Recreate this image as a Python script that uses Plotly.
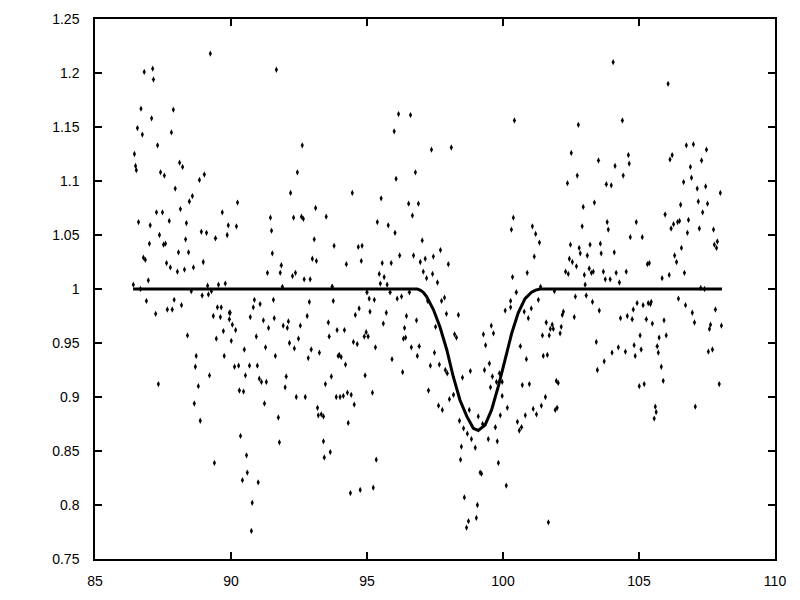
import plotly.graph_objects as go

# observed points (time, relative flux)
obs_x = [
 89.24, 86.81, 87.12, 87.15, 86.69, 87.88, 87.08, 86.56, 86.74, 87.81, 87.30, 86.45, 86.49, 86.52, 87.41, 87.55,
 88.11, 88.22, 87.95, 88.84, 89.02, 88.58, 88.47, 88.14, 87.26, 87.48, 89.68, 86.60, 87.03, 87.73, 88.36, 89.90,
 88.91, 89.10, 87.37, 88.33, 89.43, 89.86, 87.00, 87.52, 87.59, 88.07, 88.44, 86.78, 86.85, 87.63, 87.77, 88.03,
 88.29, 88.62, 88.98, 86.96, 86.41, 89.54, 89.79, 89.14, 86.67, 88.54, 88.94, 89.17, 89.28, 86.89, 87.91, 87.66,
 87.84, 88.18, 87.23, 89.50, 89.64, 89.35, 89.61, 89.94, 89.94, 89.72, 88.40, 89.46, 88.72, 89.75, 88.69, 89.21,
 87.33, 88.80, 88.65, 88.87, 89.39,
 91.67, 92.62, 92.44, 92.19, 90.24, 91.45, 92.30, 92.59, 92.66, 93.11, 93.50, 90.20, 91.49, 93.06, 91.52, 92.99,
 93.14, 91.85, 91.34, 91.81, 92.26, 92.37, 92.69, 92.91, 91.89, 93.72, 90.86, 91.56, 90.82, 91.07, 92.88, 89.97,
 90.05, 90.17, 90.71, 91.19, 91.59, 91.92, 92.07, 92.11, 92.55, 92.80, 93.58, 91.38, 90.01, 90.93, 93.61, 92.15,
 92.33, 92.48, 90.49, 91.27, 92.95, 93.25, 91.63, 92.84, 90.13, 90.28, 90.68, 90.97, 90.53, 92.03, 93.69, 91.04,
 91.12, 91.30, 91.99, 93.47, 90.31, 90.46, 92.40, 92.73, 91.23, 93.18, 93.21, 93.32, 93.40, 91.74, 90.35, 93.40,
 91.78, 93.65, 90.57, 93.43, 90.60, 90.42, 91.00, 90.78, 90.75,
 96.16, 96.60, 96.00, 97.37, 96.78, 96.07, 94.46, 95.52, 96.53, 96.89, 96.67, 95.38, 95.78, 96.03, 97.03, 93.79,
 94.68, 94.82, 94.24, 94.79, 95.56, 95.89, 96.20, 96.71, 96.96, 97.14, 97.44, 97.07, 97.41, 95.45, 95.63, 97.19,
 95.49, 95.74, 93.72, 95.85, 96.56, 93.76, 95.00, 95.08, 95.27, 96.11, 96.27, 97.23, 94.71, 95.11, 95.71, 94.57,
 96.45, 96.82, 95.60, 97.52, 93.90, 94.17, 96.38, 94.97, 94.90, 95.04, 96.34, 96.42, 94.50, 94.64, 95.31, 96.63,
 96.92, 93.94, 93.98, 94.05, 96.85, 97.48, 95.92, 94.21, 97.33, 96.31, 94.93, 95.20, 97.26, 93.87, 94.01, 94.13,
 94.28, 94.42, 94.53, 94.31, 95.34, 94.39, 94.75, 95.23,
 100.42, 98.10, 100.38, 100.31, 101.08, 101.20, 101.34, 97.70, 101.15, 97.99, 100.89, 100.35, 97.59, 97.85, 97.74, 100.49,
 101.30, 100.28, 100.28, 100.08, 100.78, 101.04, 97.92, 98.36, 100.93, 99.57, 98.22, 98.29, 99.28, 99.65, 99.36, 100.64,
 97.66, 100.86, 99.50, 97.88, 97.95, 99.32, 98.80, 99.87, 98.51, 99.61, 99.76, 99.97, 99.54, 100.71, 100.97, 99.97,
 98.18, 98.03, 97.63, 97.77, 98.76, 100.16, 101.11, 101.23, 99.90, 100.82, 99.09, 98.40, 99.25, 100.53, 98.55, 99.72,
 100.68, 100.60, 98.69, 99.46, 98.84, 99.79, 98.98, 98.47, 98.44, 99.83, 99.16, 99.21, 100.12, 98.58, 99.06, 99.02,
 98.73, 98.66,
 104.05, 104.39, 102.77, 102.51, 104.61, 104.64, 103.51, 104.12, 104.42, 102.73, 102.37, 103.80, 103.98, 103.36, 102.95, 102.91,
 103.83, 103.87, 104.90, 104.68, 105.12, 102.48, 102.80, 103.20, 103.58, 102.84, 103.10, 103.61, 104.09, 102.44, 102.55, 102.70,
 103.17, 103.25, 103.32, 102.30, 102.40, 102.99, 103.69, 104.16, 104.53, 103.76, 103.94, 104.28, 101.38, 103.02, 101.89, 102.66,
 103.06, 103.29, 103.54, 104.93, 104.79, 104.32, 104.57, 104.75, 102.22, 102.18, 102.62, 101.59, 101.81, 102.14, 101.74, 101.85,
 101.45, 101.70, 102.10, 105.04, 103.43, 104.24, 104.01, 104.50, 104.82, 105.08, 104.86, 101.48, 101.63, 103.72, 103.47, 101.96,
 102.03, 105.01, 101.56, 101.41, 101.92, 101.99, 101.67,
 106.07, 106.74, 107.00, 107.48, 106.22, 106.14, 107.30, 106.89, 106.93, 106.64, 107.14, 107.45, 107.99, 107.18, 107.52, 106.53,
 107.34, 105.96, 106.82, 106.27, 106.42, 106.49, 106.18, 107.22, 107.74, 106.78, 107.88, 107.77, 107.85, 106.56, 106.31, 106.38,
 105.31, 105.38, 106.67, 106.11, 105.85, 107.27, 107.41, 106.45, 106.71, 105.15, 105.34, 105.42, 105.45, 107.81, 106.96, 105.27,
 105.92, 105.49, 107.04, 107.63, 108.03, 107.59, 106.00, 105.74, 105.67, 105.71, 107.55, 107.70, 105.82, 105.89, 105.19, 107.95,
 105.60, 105.63, 105.56, 107.07,
]
obs_y = [
 1.218, 1.201, 1.204, 1.194, 1.167, 1.166, 1.158, 1.149, 1.143, 1.145, 1.133, 1.125, 1.114, 1.110, 1.108, 1.105,
 1.117, 1.113, 1.093, 1.101, 1.106, 1.086, 1.081, 1.074, 1.071, 1.071, 1.071, 1.062, 1.059, 1.063, 1.061, 1.059,
 1.053, 1.052, 1.050, 1.046, 1.047, 1.050, 1.042, 1.041, 1.042, 1.034, 1.034, 1.029, 1.027, 1.024, 1.020, 1.016,
 1.018, 1.020, 1.025, 1.008, 1.004, 1.004, 1.005, 1.003, 1.000, 0.998, 0.994, 0.995, 0.998, 0.989, 0.990, 0.981,
 0.981, 0.985, 0.977, 0.983, 0.983, 0.975, 0.974, 0.978, 0.972, 0.961, 0.957, 0.954, 0.938, 0.938, 0.928, 0.920,
 0.912, 0.910, 0.894, 0.878, 0.839,
 1.203, 1.133, 1.108, 1.089, 1.080, 1.066, 1.066, 1.067, 1.065, 1.075, 1.067, 1.058, 1.054, 1.046, 1.033, 1.028,
 1.026, 1.022, 1.015, 1.015, 1.012, 1.015, 1.009, 1.009, 1.002, 1.002, 0.990, 0.990, 0.983, 0.986, 0.988, 0.978,
 0.967, 0.962, 0.974, 0.971, 0.973, 0.966, 0.964, 0.970, 0.966, 0.975, 0.969, 0.964, 0.952, 0.956, 0.956, 0.950,
 0.945, 0.954, 0.944, 0.946, 0.944, 0.941, 0.938, 0.936, 0.928, 0.929, 0.929, 0.929, 0.920, 0.919, 0.919, 0.917,
 0.914, 0.914, 0.909, 0.912, 0.906, 0.905, 0.900, 0.900, 0.894, 0.890, 0.883, 0.884, 0.882, 0.881, 0.864, 0.859,
 0.858, 0.849, 0.846, 0.844, 0.830, 0.823, 0.821, 0.802, 0.776,
 1.162, 1.161, 1.146, 1.129, 1.108, 1.102, 1.089, 1.084, 1.079, 1.079, 1.068, 1.062, 1.059, 1.052, 1.045, 1.040,
 1.039, 1.040, 1.023, 1.026, 1.024, 1.024, 1.031, 1.031, 1.025, 1.028, 1.030, 1.016, 1.014, 1.014, 1.011, 1.010,
 1.005, 1.004, 1.002, 0.997, 0.997, 0.989, 0.997, 0.991, 0.990, 0.991, 0.993, 0.989, 0.982, 0.979, 0.978, 0.976,
 0.975, 0.971, 0.968, 0.965, 0.962, 0.962, 0.964, 0.960, 0.956, 0.956, 0.954, 0.955, 0.951, 0.949, 0.946, 0.946,
 0.947, 0.938, 0.939, 0.937, 0.938, 0.941, 0.935, 0.930, 0.929, 0.923, 0.920, 0.904, 0.906, 0.900, 0.900, 0.901,
 0.904, 0.902, 0.893, 0.876, 0.842, 0.811, 0.814, 0.816,
 1.156, 1.131, 1.066, 1.055, 1.058, 1.051, 1.043, 1.036, 1.030, 1.023, 1.015, 1.011, 1.006, 0.992, 0.989, 0.997,
 0.990, 0.989, 0.983, 0.980, 0.979, 0.982, 0.977, 0.976, 0.973, 0.966, 0.958, 0.955, 0.958, 0.959, 0.948, 0.947,
 0.930, 0.935, 0.931, 0.925, 0.922, 0.925, 0.924, 0.922, 0.918, 0.919, 0.914, 0.914, 0.909, 0.911, 0.912, 0.901,
 0.902, 0.898, 0.892, 0.888, 0.888, 0.890, 0.889, 0.884, 0.883, 0.883, 0.882, 0.878, 0.875, 0.877, 0.871, 0.872,
 0.872, 0.869, 0.866, 0.861, 0.861, 0.859, 0.853, 0.854, 0.842, 0.839, 0.830, 0.829, 0.818, 0.807, 0.800, 0.788,
 0.785, 0.779,
 1.210, 1.156, 1.152, 1.126, 1.124, 1.116, 1.119, 1.114, 1.105, 1.105, 1.098, 1.097, 1.096, 1.080, 1.076, 1.058,
 1.062, 1.055, 1.062, 1.048, 1.048, 1.041, 1.038, 1.041, 1.042, 1.033, 1.031, 1.033, 1.034, 1.028, 1.025, 1.021,
 1.019, 1.015, 1.016, 1.016, 1.014, 1.013, 1.016, 1.015, 1.016, 1.009, 1.009, 1.006, 1.002, 1.004, 0.998, 0.993,
 0.994, 0.988, 0.980, 0.987, 0.981, 0.973, 0.975, 0.972, 0.979, 0.976, 0.974, 0.969, 0.967, 0.965, 0.963, 0.963,
 0.957, 0.957, 0.959, 0.957, 0.951, 0.946, 0.941, 0.942, 0.948, 0.944, 0.938, 0.938, 0.939, 0.933, 0.925, 0.915,
 0.913, 0.910, 0.900, 0.892, 0.888, 0.890, 0.784,
 1.190, 1.133, 1.134, 1.129, 1.124, 1.120, 1.119, 1.113, 1.103, 1.099, 1.093, 1.095, 1.089, 1.081, 1.079, 1.078,
 1.071, 1.069, 1.064, 1.060, 1.062, 1.063, 1.056, 1.056, 1.055, 1.052, 1.044, 1.041, 1.038, 1.038, 1.031, 1.025,
 1.023, 1.024, 1.015, 1.013, 1.010, 1.001, 1.000, 0.991, 0.985, 0.985, 0.987, 0.986, 0.988, 0.981, 0.978, 0.972,
 0.971, 0.968, 0.969, 0.967, 0.966, 0.963, 0.957, 0.955, 0.947, 0.941, 0.942, 0.944, 0.928, 0.915, 0.912, 0.912,
 0.891, 0.886, 0.880, 0.891,
]

# model curve
model_x = [86.40, 96.85, 96.95, 97.07, 97.19, 97.44, 97.68, 97.93, 98.17, 98.42, 98.67, 98.91, 99.09, 99.34, 99.58,
           99.83, 100.07, 100.32, 100.56, 100.81, 101.05, 101.20, 101.36, 108.05]
model_y = [1.000, 1.000, 0.999, 0.997, 0.993, 0.981, 0.965, 0.944, 0.919, 0.897, 0.882, 0.871, 0.869, 0.874, 0.888,
           0.910, 0.934, 0.959, 0.978, 0.991, 0.997, 0.999, 1.000, 1.000]

x_ticks = [85, 90, 95, 100, 105, 110]
x_tick_text = ["85", "90", "95", "100", "105", "110"]
y_ticks = [0.75, 0.8, 0.85, 0.9, 0.95, 1.0, 1.05, 1.1, 1.15, 1.2, 1.25]
y_tick_text = ["0.75", "0.8", "0.85", "0.9", "0.95", "1", "1.05", "1.1", "1.15", "1.2", "1.25"]

fig = go.Figure()
fig.add_trace(go.Scatter(x=obs_x, y=obs_y, mode="markers",
                         marker=dict(color="black", size=4.5, symbol="diamond-tall"),
                         showlegend=False, hoverinfo="skip"))
fig.add_trace(go.Scatter(x=model_x, y=model_y, mode="lines",
                         line=dict(color="black", width=3, shape="linear"),
                         showlegend=False, hoverinfo="skip"))

axis_common = dict(showgrid=False, zeroline=False, showline=True, linecolor="black", linewidth=1.5,
                   mirror="ticks", ticks="inside", ticklen=7, tickwidth=1.5, tickcolor="black",
                   automargin=False,
                   tickfont=dict(family="Liberation Sans, Arial, sans-serif", size=14, color="black"))
fig.update_xaxes(range=[85, 110], tickvals=x_ticks, ticktext=x_tick_text, ticklabelstandoff=8, **axis_common)
fig.update_yaxes(range=[0.75, 1.25], tickvals=y_ticks, ticktext=y_tick_text, ticklabelstandoff=11, **axis_common)
fig.update_layout(width=792, height=592, plot_bgcolor="white", paper_bgcolor="white",
                  margin=dict(l=87, r=25, t=11, b=41))
fig.write_html("out.html")
